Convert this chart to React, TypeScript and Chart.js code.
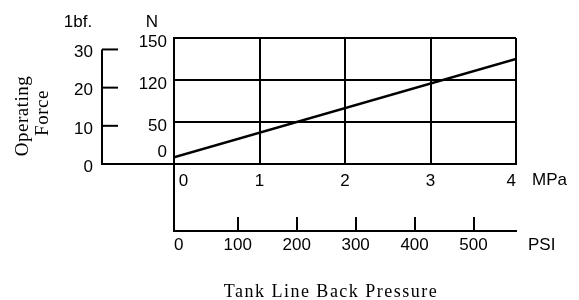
import React, { useEffect, useRef } from 'react';
import { Chart, registerables } from 'chart.js';

Chart.register(...registerables);

// ---- data ----
const mpaTicks = [0, 1, 2, 3, 4];
const newtonTicks = [0, 50, 120, 150];
const lbfTicks = [0, 10, 20, 30];
const psiTicks = [0, 100, 200, 300, 400, 500];
const pressureMPa = [0, 4];
const forceN = [8, 135];

const SANS = '"Liberation Sans", Arial, sans-serif';
const SERIF = '"Liberation Serif", "Times New Roman", serif';
const INK = '#000';

// position of a force (N) on the evenly spaced force grid
function nToGrid(n: number): number {
  for (let i = 1; i < newtonTicks.length; i++) {
    if (n <= newtonTicks[i]) {
      return i - 1 + (n - newtonTicks[i - 1]) / (newtonTicks[i] - newtonTicks[i - 1]);
    }
  }
  return newtonTicks.length - 1;
}

const extrasPlugin = {
  id: 'extras',
  afterDraw(chart: any) {
    const { ctx, chartArea, scales } = chart;
    const x = scales.x;
    const y = scales.y;
    const lbf = scales.lbf;
    const psi = scales.psi;
    ctx.save();
    ctx.fillStyle = INK;
    ctx.strokeStyle = INK;
    ctx.lineWidth = 2;
    ctx.font = `17px ${SANS}`;

    // unit labels on top
    ctx.textAlign = 'center';
    ctx.textBaseline = 'middle';
    ctx.fillText('1bf.', 78, 22);
    ctx.fillText('N', 152, 22);

    // lbf axis
    const ax = 102;
    const y0 = lbf.getPixelForValue(lbfTicks[0]);
    const yTop = lbf.getPixelForValue(lbfTicks[lbfTicks.length - 1]);
    ctx.beginPath();
    ctx.moveTo(ax, yTop);
    ctx.lineTo(ax, y0);
    ctx.lineTo(chartArea.left, y0);
    ctx.stroke();
    ctx.textAlign = 'right';
    lbfTicks.forEach((v) => {
      const py = lbf.getPixelForValue(v);
      if (v !== 0) {
        ctx.beginPath();
        ctx.moveTo(ax, py);
        ctx.lineTo(ax + 16, py);
        ctx.stroke();
      }
      ctx.fillText(String(v), 93, py + 3);
    });

    // N labels
    newtonTicks.forEach((v, i) => {
      const py = y.getPixelForValue(i);
      ctx.fillText(String(v), 167, i === 0 ? py - 12 : py + 4);
    });

    // vertical link between the MPa and PSI axes
    ctx.beginPath();
    ctx.moveTo(x.getPixelForValue(0), chartArea.bottom);
    ctx.lineTo(x.getPixelForValue(0), psi.top);
    ctx.stroke();

    // unit names
    ctx.textAlign = 'left';
    ctx.fillText('MPa', 532, 180);
    ctx.fillText('PSI', 528, 245);

    // axis titles
    ctx.font = `19px ${SERIF}`;
    (ctx as any).letterSpacing = '0.5px';
    ctx.textAlign = 'center';
    ctx.save();
    ctx.translate(23, 116);
    ctx.rotate(-Math.PI / 2);
    ctx.fillText('Operating', 0, 0);
    ctx.restore();
    ctx.save();
    ctx.translate(43, 113);
    ctx.rotate(-Math.PI / 2);
    ctx.fillText('Force', 0, 0);
    ctx.restore();

    ctx.font = `18px ${SERIF}`;
    (ctx as any).letterSpacing = '1.5px';
    ctx.textBaseline = 'alphabetic';
    ctx.fillText('Tank Line Back Pressure', 331, 297);
    ctx.restore();
  },
};

export default function App() {
  const ref = useRef<HTMLCanvasElement | null>(null);

  useEffect(() => {
    if (!ref.current) return;
    const chart = new Chart(ref.current, {
      type: 'line',
      data: {
        datasets: [
          {
            data: pressureMPa.map((p, i) => ({ x: p, y: nToGrid(forceN[i]) })),
            borderColor: INK,
            borderWidth: 2.5,
            pointRadius: 0,
            fill: false,
            xAxisID: 'x',
            yAxisID: 'y',
          },
        ],
      },
      options: {
        responsive: false,
        animation: false,
        layout: { padding: { left: 174, right: 63, top: 38, bottom: 0 } },
        plugins: { legend: { display: false }, tooltip: { enabled: false } },
        scales: {
          x: {
            type: 'linear',
            position: 'bottom',
            weight: 0,
            min: mpaTicks[0],
            max: mpaTicks[mpaTicks.length - 1],
            afterFit: (s: any) => {
              s.height = 67;
            },
            afterBuildTicks: (s: any) => {
              s.ticks = mpaTicks.map((v) => ({ value: v }));
            },
            grid: { color: INK, lineWidth: 2, drawTicks: false },
            border: { color: INK, width: 2 },
            ticks: {
              align: 'inner',
              padding: 7,
              color: INK,
              autoSkip: false,
              maxRotation: 0,
              font: { family: SANS, size: 17 },
              callback: (v: any) => (v === 0 ? ' 0' : String(v)),
            },
          },
          psi: {
            type: 'linear',
            axis: 'x',
            position: 'bottom',
            weight: 1,
            min: -8,
            max: 572,
            afterFit: (s: any) => {
              s.height = 69;
            },
            afterBuildTicks: (s: any) => {
              s.ticks = psiTicks.map((v) => ({ value: v }));
            },
            grid: {
              drawOnChartArea: false,
              drawTicks: true,
              tickLength: -14,
              lineWidth: 2,
              tickWidth: 2,
              tickColor: (c: any) => (c.tick && c.tick.value === 0 ? 'rgba(0,0,0,0)' : INK),
            },
            border: { color: INK, width: 2 },
            ticks: {
              padding: 18,
              color: INK,
              autoSkip: false,
              maxRotation: 0,
              font: { family: SANS, size: 17 },
            },
          },
          y: {
            type: 'linear',
            position: 'left',
            min: 0,
            max: newtonTicks.length - 1,
            afterFit: (s: any) => {
              s.width = 0;
            },
            afterBuildTicks: (s: any) => {
              s.ticks = newtonTicks.map((_, i) => ({ value: i }));
            },
            grid: { color: INK, lineWidth: 2, drawTicks: false },
            border: { color: INK, width: 2 },
            ticks: { display: false },
          },
          lbf: {
            type: 'linear',
            axis: 'y',
            position: 'left',
            display: false,
            min: 0,
            max: 33,
          },
        },
      } as any,
      plugins: [extrasPlugin],
    });
    return () => chart.destroy();
  }, []);

  return (
    <div style={{ position: 'absolute', left: 0, top: 0, width: 579, height: 300, background: '#fff' }}>
      <canvas ref={ref} width={579} height={300} />
    </div>
  );
}
